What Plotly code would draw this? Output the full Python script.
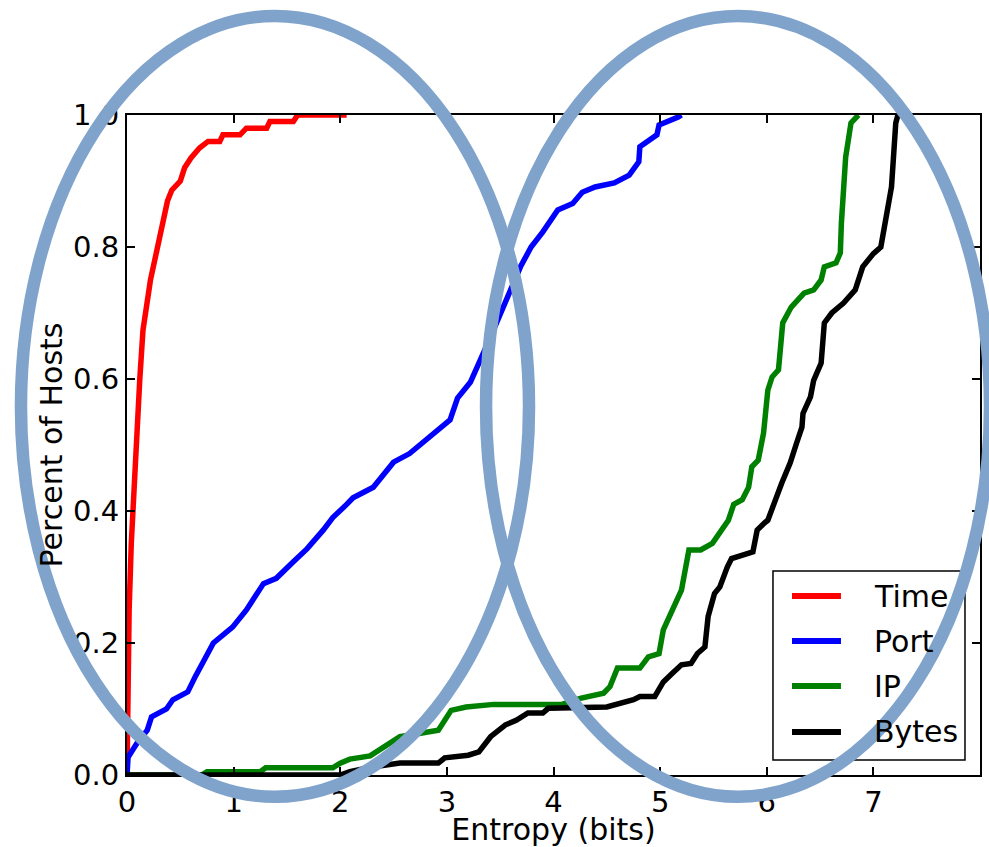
import plotly.graph_objects as go

# ---- data ----
time_x = [0, 0.005, 0.02, 0.04, 0.06, 0.09, 0.12, 0.15, 0.22, 0.28, 0.33, 0.38, 0.42, 0.5, 0.54, 0.6, 0.68, 0.76, 0.87, 0.9, 1.06, 1.12, 1.31, 1.34, 1.56, 1.6, 2.06]
time_y = [0, 0.1, 0.25, 0.35, 0.42, 0.52, 0.6, 0.674, 0.75, 0.795, 0.833, 0.87, 0.886, 0.9, 0.92, 0.935, 0.95, 0.96, 0.96, 0.97, 0.97, 0.98, 0.98, 0.99, 0.99, 1.0, 1.0]

port_x = [0, 0.01, 0.1, 0.19, 0.23, 0.37, 0.43, 0.57, 0.64, 0.81, 0.99, 1.12, 1.28, 1.4, 1.56, 1.69, 1.84, 1.93, 2.06, 2.12, 2.31, 2.5, 2.65, 2.87, 3.03, 3.1, 3.22, 3.41, 3.55, 3.69, 3.79, 3.9, 4.04, 4.18, 4.27, 4.39, 4.57, 4.71, 4.8, 4.81, 4.97, 4.99, 5.17, 5.2]
port_y = [0, 0.027, 0.05, 0.068, 0.088, 0.1, 0.114, 0.126, 0.149, 0.2, 0.224, 0.25, 0.29, 0.298, 0.323, 0.343, 0.371, 0.39, 0.41, 0.42, 0.436, 0.474, 0.487, 0.518, 0.538, 0.571, 0.595, 0.664, 0.715, 0.77, 0.8, 0.823, 0.856, 0.866, 0.883, 0.891, 0.897, 0.909, 0.929, 0.952, 0.97, 0.985, 0.997, 1.0]

ip_x = [0, 0.7, 0.75, 1.25, 1.3, 1.93, 2.0, 2.09, 2.28, 2.56, 2.92, 3.04, 3.18, 3.44, 4.08, 4.25, 4.47, 4.53, 4.6, 4.81, 4.89, 4.99, 5.03, 5.1, 5.2, 5.27, 5.38, 5.49, 5.64, 5.69, 5.77, 5.83, 5.86, 5.92, 5.97, 6.01, 6.05, 6.11, 6.15, 6.23, 6.35, 6.44, 6.51, 6.54, 6.65, 6.69, 6.7, 6.74, 6.79, 6.86]
ip_y = [0, 0, 0.005, 0.005, 0.011, 0.011, 0.018, 0.024, 0.029, 0.058, 0.068, 0.098, 0.103, 0.107, 0.107, 0.116, 0.124, 0.134, 0.162, 0.162, 0.179, 0.184, 0.22, 0.245, 0.28, 0.341, 0.341, 0.351, 0.386, 0.41, 0.417, 0.436, 0.467, 0.477, 0.518, 0.583, 0.603, 0.614, 0.685, 0.709, 0.73, 0.735, 0.75, 0.77, 0.776, 0.791, 0.836, 0.936, 0.988, 1.0]

bytes_x = [0, 2.0, 2.09, 2.3, 2.56, 2.92, 2.98, 3.2, 3.3, 3.41, 3.55, 3.65, 3.76, 3.9, 3.95, 4.5, 4.75, 4.81, 4.95, 5.03, 5.1, 5.2, 5.29, 5.35, 5.42, 5.45, 5.51, 5.56, 5.63, 5.67, 5.87, 5.91, 5.98, 6.01, 6.14, 6.22, 6.28, 6.33, 6.34, 6.41, 6.44, 6.51, 6.54, 6.61, 6.72, 6.83, 6.9, 7.0, 7.07, 7.12, 7.17, 7.21, 7.23]
bytes_y = [0, 0, 0.005, 0.012, 0.018, 0.018, 0.026, 0.03, 0.035, 0.058, 0.076, 0.083, 0.094, 0.094, 0.101, 0.103, 0.114, 0.119, 0.119, 0.141, 0.152, 0.167, 0.169, 0.184, 0.194, 0.24, 0.275, 0.285, 0.315, 0.328, 0.338, 0.371, 0.382, 0.386, 0.442, 0.473, 0.503, 0.527, 0.548, 0.573, 0.598, 0.624, 0.685, 0.7, 0.715, 0.735, 0.77, 0.79, 0.8, 0.845, 0.891, 0.988, 1.0]

series_names = ["Time", "Port", "IP", "Bytes"]
series_colors = ["#ff0000", "#0000ff", "#008000", "#000000"]
series_x = [time_x, port_x, ip_x, bytes_x]
series_y = [time_y, port_y, ip_y, bytes_y]

x_ticks = [0, 1, 2, 3, 4, 5, 6, 7, 8]
y_ticks = [0.0, 0.2, 0.4, 0.6, 0.8, 1.0]
y_tick_text = ["0.0", "0.2", "0.4", "0.6", "0.8", "1.0"]

FONT = "DejaVu Sans"
ELLIPSE = "#80a3cc"

fig = go.Figure()
for name, xs, ys, col in zip(series_names, series_x, series_y, series_colors):
    fig.add_trace(go.Scatter(x=xs, y=ys, mode="lines", name=name, showlegend=False,
                             line=dict(color=col, width=5.5)))

axis_common = dict(showgrid=False, zeroline=False, showline=True, linecolor="black",
                   linewidth=2, mirror="ticks", ticks="inside", ticklen=8, tickwidth=1.5,
                   tickcolor="black", tickfont=dict(family=FONT, size=29, color="black"))

fig.update_xaxes(range=[0, 8], tickvals=x_ticks, ticktext=[str(v) for v in x_ticks],
                 title=dict(text="Entropy (bits)", font=dict(family=FONT, size=30, color="black"), standoff=4),
                 **axis_common)
fig.update_yaxes(range=[0, 1], tickvals=y_ticks, ticktext=y_tick_text,
                 title=dict(text="Percent of Hosts", font=dict(family=FONT, size=30, color="black"), standoff=2),
                 **axis_common)

# ---- legend box (layout, in paper units) ----
LEG_X0, LEG_X1, LEG_Y0, LEG_Y1 = 0.7573, 0.9824, 0.0227, 0.3091
LINE_X0, LINE_X1, TEXT_X = 0.7796, 0.8370, 0.8734
ROW_Y = [0.2712, 0.2030, 0.1348, 0.0652]

shapes = [dict(type="rect", xref="paper", yref="paper", x0=LEG_X0, x1=LEG_X1, y0=LEG_Y0, y1=LEG_Y1,
               fillcolor="rgba(0,0,0,0)", line=dict(color="black", width=1.5), layer="below")]
annotations = []
for name, col, ry in zip(series_names, series_colors, ROW_Y):
    shapes.append(dict(type="line", xref="paper", yref="paper", x0=LINE_X0, x1=LINE_X1, y0=ry, y1=ry,
                       line=dict(color=col, width=6), layer="below"))
    annotations.append(dict(text=name, xref="paper", yref="paper", x=TEXT_X, y=ry,
                            xanchor="left", yanchor="middle", showarrow=False,
                            bgcolor="rgba(0,0,0,0)",
                            font=dict(family=FONT, size=30, color="black")))

# ---- highlight ellipses (layout decoration, in paper units) ----
shapes += [
    dict(type="path", xref="paper", yref="paper",
         path="M -0.1243,0.5585 A 0.2978,0.5915 0 1 1 0.4713,0.5585 A 0.2978,0.5915 0 1 1 -0.1243,0.5585 Z",
         fillcolor="rgba(0,0,0,0)", line=dict(color=ELLIPSE, width=12.5), layer="above"),
    dict(type="circle", xref="paper", yref="paper", x0=0.4209, x1=1.0117, y0=-0.033, y1=1.15,
         fillcolor="rgba(0,0,0,0)", line=dict(color=ELLIPSE, width=12.5), layer="above"),
]
shapes[-2] = dict(type="circle", xref="paper", yref="paper", x0=-0.1243, x1=0.4713, y0=-0.033, y1=1.15,
                  fillcolor="rgba(0,0,0,0)", line=dict(color=ELLIPSE, width=12.5), layer="above")

fig.update_layout(
    width=989, height=847,
    margin=dict(l=127, r=9, t=115, b=72, autoexpand=False),
    plot_bgcolor="rgba(0,0,0,0)", paper_bgcolor="white",
    font=dict(family=FONT, color="black"),
    showlegend=False,
    shapes=shapes,
    annotations=annotations,
)

fig.write_html("out.html")
